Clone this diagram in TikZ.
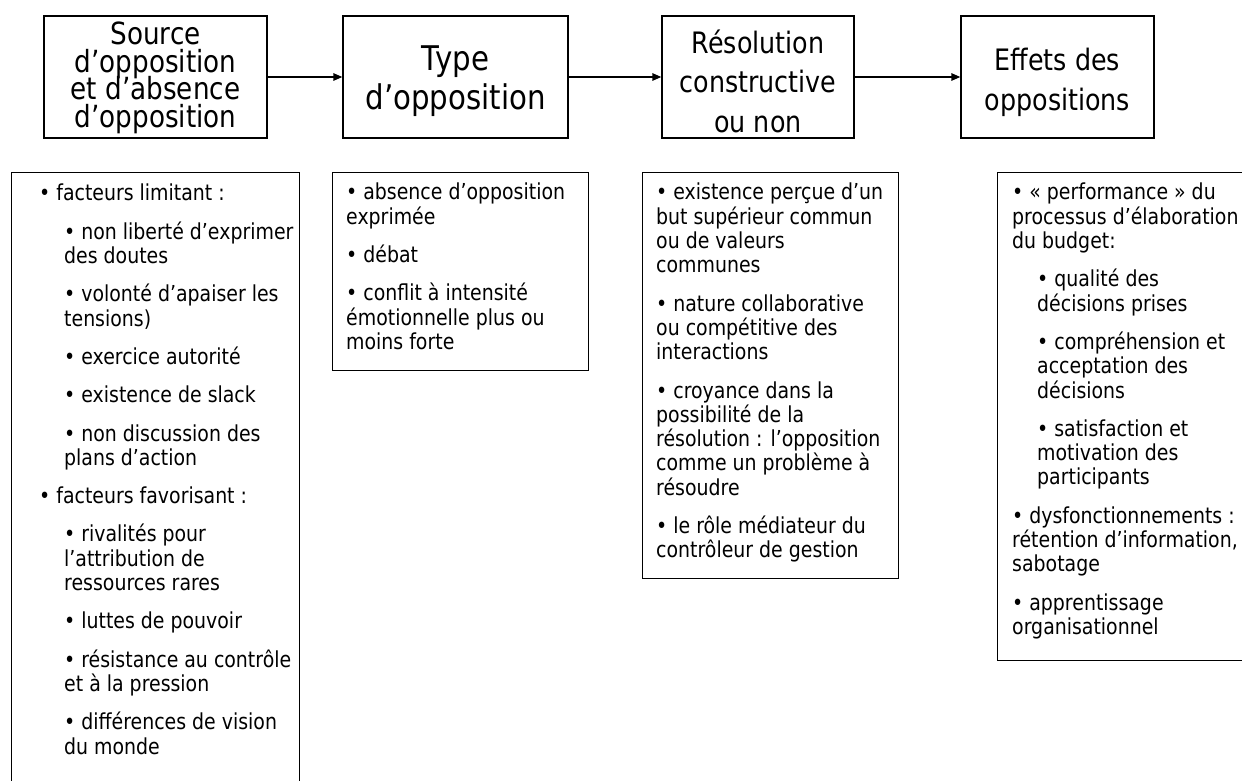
\documentclass[tikz,border=0pt]{standalone}
\usepackage{fontspec}
\setmainfont{DejaVu Sans}[FakeStretch=0.86]
\usetikzlibrary{arrows.meta}
\newcommand\tightlines{\lineskiplimit=-60pt\relax}
\begin{document}
\begin{tikzpicture}[x=1pt,y=-1pt,
  topbox/.style={draw, line width=1.4pt, inner sep=0pt, minimum height=122pt},
  toptext/.style={inner sep=0pt, align=center},
  listbox/.style={draw, line width=1.4pt, inner sep=0pt, anchor=north west},
  listtext/.style={anchor=north west, inner sep=0pt, align=left, font=\fontsize{22}{24.3}\selectfont},
  flow/.style={line width=1.4pt, -{Triangle[length=9pt,width=7.5pt]}}]
\useasboundingbox (0,0) rectangle (1242,781);
% top row
\node[topbox, minimum width=223pt] (s1) at (155.5,77) {};
\node[topbox, minimum width=225pt] (s2) at (455.5,77) {};
\node[topbox, minimum width=192pt] (s3) at (758,77) {};
\node[topbox, minimum width=193pt] (s4) at (1057.5,77) {};
\node[toptext, font=\fontsize{30.5}{27.7}\selectfont\tightlines] (l1) at (155.5,78) {Source\\d’opposition\\et d’absence\\d’opposition};
\node[toptext, font=\fontsize{34}{38.3}\selectfont] (l2) at (455.5,81) {Type\\d’opposition};
\node[toptext, font=\fontsize{29.5}{39.5}\selectfont] (l3) at (758,81) {Résolution\\constructive\\ou non};
\node[toptext, font=\fontsize{29.5}{40}\selectfont] (l4) at (1057.5,82) {Effets des\\oppositions};
\draw[flow] (s1.east) -- (s2.west);
\draw[flow] (s2.east) -- (s3.west);
\draw[flow] (s3.east) -- (s4.west);
% bottom boxes
\node[listbox, minimum width=288pt, minimum height=630pt] (bA) at (11,172) {};
\node[listbox, minimum width=256pt, minimum height=198pt] (bB) at (332,172) {};
\node[listbox, minimum width=256pt, minimum height=406pt] (bC) at (642,172) {};
\node[listbox, minimum width=280pt, minimum height=488pt] (bD) at (997,172) {};
% texts
\node[listtext] (tA) at (39,184) {• facteurs limitant :\\[14pt]
\hspace*{25pt}• non liberté d’exprimer\\
\hspace*{25pt}des doutes\\[14pt]
\hspace*{25pt}• volonté d’apaiser les\\
\hspace*{25pt}tensions)\\[14pt]
\hspace*{25pt}• exercice autorité\\[14pt]
\hspace*{25pt}• existence de slack\\[14pt]
\hspace*{25pt}• non discussion des\\
\hspace*{25pt}plans d’action\\[14pt]
• facteurs favorisant :\\[14pt]
\hspace*{25pt}• rivalités pour\\
\hspace*{25pt}l’attribution de\\
\hspace*{25pt}ressources rares\\[14pt]
\hspace*{25pt}• luttes de pouvoir\\[14pt]
\hspace*{25pt}• résistance au contrôle\\
\hspace*{25pt}et à la pression\\[14pt]
\hspace*{25pt}• différences de vision\\
\hspace*{25pt}du monde};
\node[listtext] (tB) at (346,183) {• absence d’opposition\\exprimée\\[14pt]
• débat\\[14pt]
• conflit à intensité\\émotionnelle plus ou\\moins forte};
\node[listtext] (tC) at (656,183) {• existence perçue d’un\\but supérieur commun\\ou de valeurs\\communes\\[14pt]
• nature collaborative\\ou compétitive des\\interactions\\[14pt]
• croyance dans la\\possibilité de la\\résolution : l’opposition\\comme un problème à\\résoudre\\[14pt]
• le rôle médiateur du\\contrôleur de gestion};
\node[listtext] (tD) at (1012,183) {• « performance » du\\processus d’élaboration\\du budget:\\[14pt]
\hspace*{25pt}• qualité des\\
\hspace*{25pt}décisions prises\\[14pt]
\hspace*{25pt}• compréhension et\\
\hspace*{25pt}acceptation des\\
\hspace*{25pt}décisions\\[14pt]
\hspace*{25pt}• satisfaction et\\
\hspace*{25pt}motivation des\\
\hspace*{25pt}participants\\[14pt]
• dysfonctionnements :\\rétention d’information,\\sabotage\\[14pt]
• apprentissage\\organisationnel};
\end{tikzpicture}
\end{document}
